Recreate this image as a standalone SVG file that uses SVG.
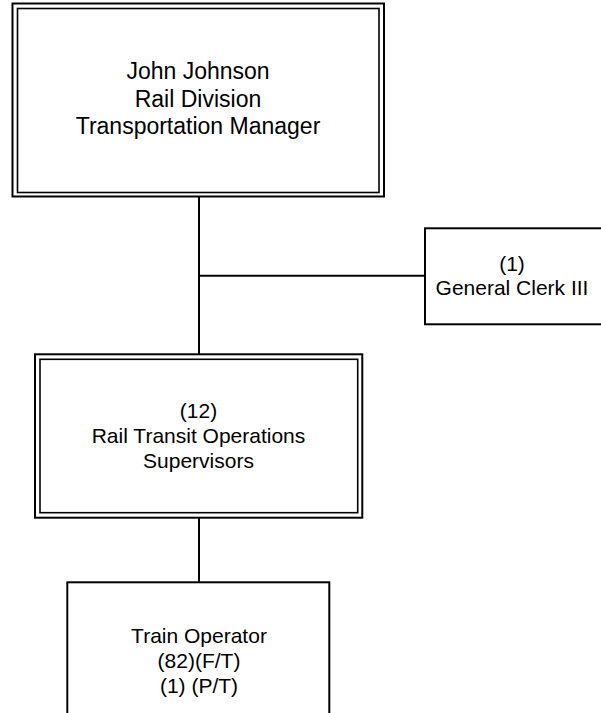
<svg xmlns="http://www.w3.org/2000/svg" width="601" height="713" viewBox="0 0 601 713">
<style>
.box{fill:none;stroke:#000;stroke-width:2}
.inner{fill:none;stroke:#000;stroke-width:1.6}
.conn{fill:none;stroke:#000;stroke-width:2}
text{font-family:"Liberation Sans",Arial,sans-serif;fill:#000;text-anchor:middle}
</style>
<rect width="601" height="713" fill="#fff"/>
<g id="connectors">
<line class="conn" x1="199" y1="197" x2="199" y2="354"/>
<line class="conn" x1="199" y1="275.7" x2="425" y2="275.7"/>
<line class="conn" x1="199" y1="518" x2="199" y2="582"/>
</g>
<g id="manager">
<rect class="box" x="12.5" y="3.5" width="371.5" height="193"/>
<rect class="inner" x="17.5" y="8.5" width="361.5" height="184"/>
<text font-size="23"><tspan x="198" y="79">John Johnson</tspan><tspan x="198" y="106.5">Rail Division</tspan><tspan x="198" y="134">Transportation Manager</tspan></text>
</g>
<g id="clerk">
<rect class="box" x="425" y="228.3" width="180" height="96"/>
<text font-size="21"><tspan x="512" y="271">(1)</tspan><tspan x="512" y="295">General Clerk III</tspan></text>
</g>
<g id="supervisors">
<rect class="box" x="35" y="354.3" width="327.3" height="163.4"/>
<rect class="inner" x="40" y="359.3" width="317.7" height="153.4"/>
<text font-size="21"><tspan x="198.5" y="418">(12)</tspan><tspan x="198.5" y="443">Rail Transit Operations</tspan><tspan x="198.5" y="468">Supervisors</tspan></text>
</g>
<g id="operator">
<rect class="box" x="67.3" y="582.3" width="262" height="140"/>
<text font-size="21"><tspan x="199" y="643.3">Train Operator</tspan><tspan x="199" y="668">(82)(F/T)</tspan><tspan x="199" y="692.5">(1) (P/T)</tspan></text>
</g>
</svg>
